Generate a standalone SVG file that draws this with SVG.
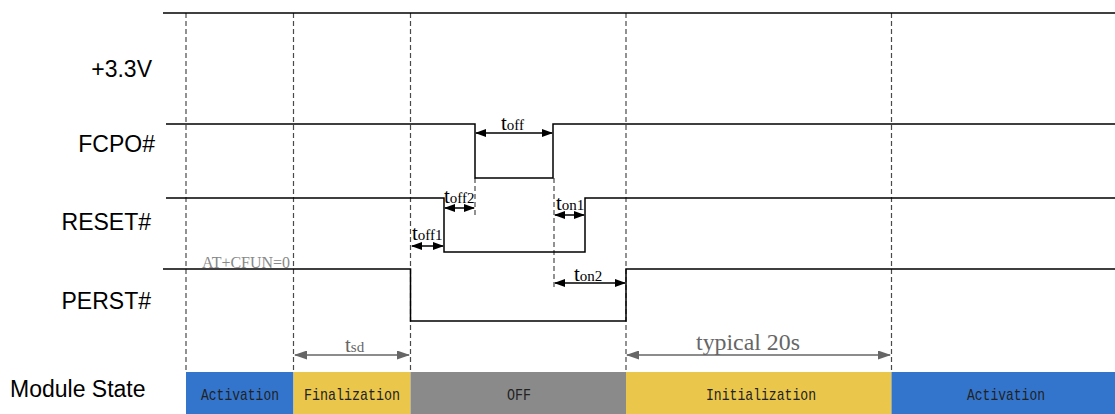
<svg xmlns="http://www.w3.org/2000/svg" width="1115" height="414" viewBox="0 0 1115 414">
<style>
.lbl{font-family:"Liberation Sans",Arial,sans-serif;font-size:23px;fill:#000}
.sig{fill:none;stroke:#000;stroke-width:1.5}
.dash{fill:none;stroke:#4a4a4a;stroke-width:1.2;stroke-dasharray:5,3}
.arr{fill:none;stroke:#000;stroke-width:1.5;marker-start:url(#ah);marker-end:url(#ah)}
.garr{fill:none;stroke:#666;stroke-width:1.5;marker-start:url(#gh);marker-end:url(#gh)}
.t{font-family:"Liberation Serif","Times New Roman",serif;fill:#000}
.gt{font-family:"Liberation Serif","Times New Roman",serif;fill:#666}
.big{font-size:21px}
.sub{font-size:15px}
.st{font-family:"Liberation Mono","DejaVu Sans Mono",monospace;font-size:17px;fill:#222;text-anchor:middle}
</style>
<defs>
<marker id="ah" markerUnits="userSpaceOnUse" markerWidth="11" markerHeight="8" refX="10" refY="4" orient="auto-start-reverse"><path d="M0,0 L11,4 L0,8 z" fill="#000"/></marker>
<marker id="gh" markerUnits="userSpaceOnUse" markerWidth="13" markerHeight="9" refX="12" refY="4.5" orient="auto-start-reverse"><path d="M0,0 L13,4.5 L0,9 z" fill="#666"/></marker>
</defs>
<rect width="1115" height="414" fill="#fff"/>
<g id="state-bar">
<rect x="186" y="372" width="107.5" height="42" fill="#3375CC"/>
<rect x="293.5" y="372" width="117" height="42" fill="#EAC64B"/>
<rect x="410.5" y="372" width="215.5" height="42" fill="#8A8A8A"/>
<rect x="626" y="372" width="265.5" height="42" fill="#EAC64B"/>
<rect x="891.5" y="372" width="223.5" height="42" fill="#3375CC"/>
<text class="st" x="240" y="400" textLength="78" lengthAdjust="spacingAndGlyphs">Activation</text>
<text class="st" x="352" y="400" textLength="96" lengthAdjust="spacingAndGlyphs">Finalization</text>
<text class="st" x="519" y="400" textLength="24" lengthAdjust="spacingAndGlyphs">OFF</text>
<text class="st" x="761" y="400" textLength="110" lengthAdjust="spacingAndGlyphs">Initialization</text>
<text class="st" x="1006" y="400" textLength="78" lengthAdjust="spacingAndGlyphs">Activation</text>
</g>
<g id="labels">
<text class="lbl" x="152" y="77" text-anchor="end" font-size="22">+3.3V</text>
<text class="lbl" x="155" y="152" text-anchor="end">FCPO#</text>
<text class="lbl" x="151" y="230" text-anchor="end">RESET#</text>
<text class="lbl" x="151" y="309" text-anchor="end">PERST#</text>
<text class="lbl" x="10" y="397">Module State</text>
</g>
<g id="guides">
<line class="dash" x1="186" y1="13" x2="186" y2="372"/>
<line class="dash" x1="293.5" y1="13" x2="293.5" y2="372"/>
<line class="dash" x1="410.5" y1="13" x2="410.5" y2="372"/>
<line class="dash" x1="626" y1="13" x2="626" y2="372"/>
<line class="dash" x1="891.5" y1="13" x2="891.5" y2="372"/>
<line class="dash" x1="475" y1="178" x2="475" y2="218"/>
<line class="dash" x1="554" y1="178" x2="554" y2="290"/>
</g>
<g id="signals">
<path id="v33" class="sig" d="M163,13 H1115"/>
<path id="fcpo" class="sig" d="M166,124 H475 V178 H553 V124 H1115"/>
<path id="reset" class="sig" d="M166,198 H444 V252 H585 V198 H1115"/>
<path id="perst" class="sig" d="M163,269 H410.5 V321 H626 V269 H1115"/>
</g>
<g id="connectors">
<line class="arr" x1="476" y1="133" x2="552" y2="133"/>
<line class="arr" x1="445" y1="208" x2="474" y2="208"/>
<line class="arr" x1="412" y1="246" x2="443" y2="246"/>
<line class="arr" x1="555" y1="215" x2="584" y2="215"/>
<line class="arr" x1="555" y1="283" x2="625" y2="283"/>
<line class="garr" x1="295" y1="355" x2="409" y2="355"/>
<line class="garr" x1="627" y1="355" x2="890" y2="355"/>
</g>
<g id="annotations">
<text class="t" x="501" y="130"><tspan class="big">t</tspan><tspan class="sub">off</tspan></text>
<text class="t" x="444" y="203"><tspan class="big">t</tspan><tspan class="sub">off2</tspan></text>
<text class="t" x="412" y="240"><tspan class="big">t</tspan><tspan class="sub">off1</tspan></text>
<text class="t" x="556" y="210"><tspan class="big">t</tspan><tspan class="sub">on1</tspan></text>
<text class="t" x="574" y="281"><tspan class="big">t</tspan><tspan class="sub">on2</tspan></text>
<text class="gt" x="345" y="352"><tspan class="big">t</tspan><tspan class="sub">sd</tspan></text>
<text class="gt" x="696" y="350" font-size="23" textLength="104" lengthAdjust="spacingAndGlyphs">typical 20s</text>
<text x="202" y="268" font-family="Liberation Serif,serif" font-size="17" fill="#888" textLength="88" lengthAdjust="spacingAndGlyphs">AT+CFUN=0</text>
</g>
</svg>
